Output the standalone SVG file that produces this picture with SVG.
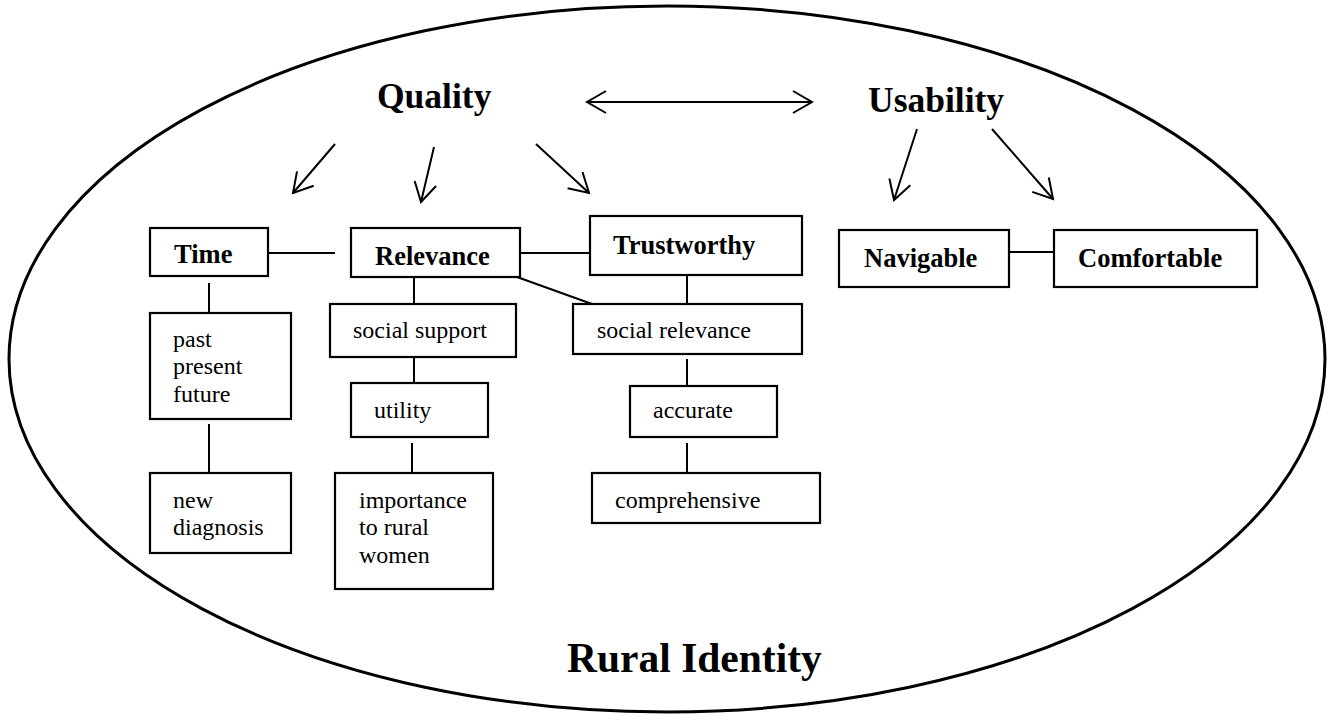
<svg xmlns="http://www.w3.org/2000/svg" width="1334" height="715" viewBox="0 0 1334 715">
  <style>
    .box { fill: #fff; stroke: #000; stroke-width: 2.2; }
    .link { stroke: #000; stroke-width: 2; fill: none; }
    .arrow { stroke: #000; stroke-width: 2; fill: none; marker-end: url(#vhead); }
    .head { font-family: "Liberation Serif", "Times New Roman", serif; font-weight: bold; font-size: 26.5px; fill: #000; }
    .title { font-family: "Liberation Serif", "Times New Roman", serif; font-weight: bold; font-size: 35.5px; fill: #000; }
    .item { font-family: "Liberation Serif", "Times New Roman", serif; font-size: 24px; fill: #000; }
  </style>
  <defs>
    <marker id="vhead" markerUnits="userSpaceOnUse" markerWidth="24" markerHeight="26" refX="20" refY="12" orient="auto-start-reverse" viewBox="0 0 24 26">
      <path d="M1,1 L20,12 L1,23" fill="none" stroke="#000" stroke-width="2"/>
    </marker>
  </defs>
  <rect width="1334" height="715" fill="#fff"/>

  <!-- outer boundary -->
  <g id="rural-identity">
    <ellipse cx="667" cy="359" rx="658" ry="353" fill="none" stroke="#000" stroke-width="3"/>
    <text class="title" x="567" y="672" style="font-size:41.5px">Rural Identity</text>
  </g>

  <!-- connectors -->
  <g id="connectors">
    <line class="arrow" x1="587" y1="102" x2="812" y2="102" style="marker-start:url(#vhead)"/>
    <line class="arrow" x1="335" y1="144" x2="293" y2="193"/>
    <line class="arrow" x1="434" y1="147" x2="421" y2="202"/>
    <line class="arrow" x1="536" y1="144" x2="589" y2="193"/>
    <line class="arrow" x1="917" y1="129" x2="894" y2="200"/>
    <line class="arrow" x1="992" y1="129" x2="1053" y2="199"/>

    <line class="link" x1="268" y1="253" x2="335" y2="253"/>
    <line class="link" x1="520" y1="253" x2="590" y2="253"/>
    <line class="link" x1="517" y1="277" x2="592" y2="304"/>
    <line class="link" x1="1009" y1="252" x2="1054" y2="252"/>

    <line class="link" x1="209" y1="283" x2="209" y2="313"/>
    <line class="link" x1="209" y1="424" x2="209" y2="473"/>

    <line class="link" x1="414" y1="277" x2="414" y2="304"/>
    <line class="link" x1="414" y1="357" x2="414" y2="383"/>
    <line class="link" x1="412" y1="443" x2="412" y2="473"/>

    <line class="link" x1="687" y1="275" x2="687" y2="304"/>
    <line class="link" x1="687" y1="359" x2="687" y2="386"/>
    <line class="link" x1="687" y1="443" x2="687" y2="473"/>
  </g>

  <g id="quality">
    <text class="title" x="377" y="108">Quality</text>
  </g>
  <g id="usability">
    <text class="title" x="868" y="112">Usability</text>
  </g>

  <g id="time">
    <rect class="box" x="150" y="228" width="118" height="48"/>
    <text class="head" x="174" y="263">Time</text>
  </g>
  <g id="relevance">
    <rect class="box" x="351" y="228" width="169" height="49"/>
    <text class="head" x="375" y="265">Relevance</text>
  </g>
  <g id="trustworthy">
    <rect class="box" x="590" y="216" width="212" height="59"/>
    <text class="head" x="613" y="254">Trustworthy</text>
  </g>
  <g id="navigable">
    <rect class="box" x="839" y="230" width="170" height="57"/>
    <text class="head" x="864" y="267">Navigable</text>
  </g>
  <g id="comfortable">
    <rect class="box" x="1054" y="230" width="203" height="57"/>
    <text class="head" x="1078" y="267">Comfortable</text>
  </g>

  <g id="past-present-future">
    <rect class="box" x="150" y="313" width="141" height="106"/>
    <text class="item" x="173" y="347">past</text>
    <text class="item" x="173" y="374">present</text>
    <text class="item" x="173" y="402">future</text>
  </g>
  <g id="new-diagnosis">
    <rect class="box" x="150" y="473" width="141" height="80"/>
    <text class="item" x="173" y="508">new</text>
    <text class="item" x="173" y="535">diagnosis</text>
  </g>

  <g id="social-support">
    <rect class="box" x="330" y="304" width="186" height="53"/>
    <text class="item" x="353" y="338">social support</text>
  </g>
  <g id="utility">
    <rect class="box" x="351" y="383" width="137" height="54"/>
    <text class="item" x="374" y="418">utility</text>
  </g>
  <g id="importance">
    <rect class="box" x="335" y="473" width="158" height="116"/>
    <text class="item" x="359" y="508">importance</text>
    <text class="item" x="359" y="535">to rural</text>
    <text class="item" x="359" y="563">women</text>
  </g>

  <g id="social-relevance">
    <rect class="box" x="573" y="304" width="229" height="50"/>
    <text class="item" x="597" y="338">social relevance</text>
  </g>
  <g id="accurate">
    <rect class="box" x="630" y="386" width="147" height="51"/>
    <text class="item" x="653" y="418">accurate</text>
  </g>
  <g id="comprehensive">
    <rect class="box" x="592" y="473" width="228" height="50"/>
    <text class="item" x="615" y="508">comprehensive</text>
  </g>
</svg>
